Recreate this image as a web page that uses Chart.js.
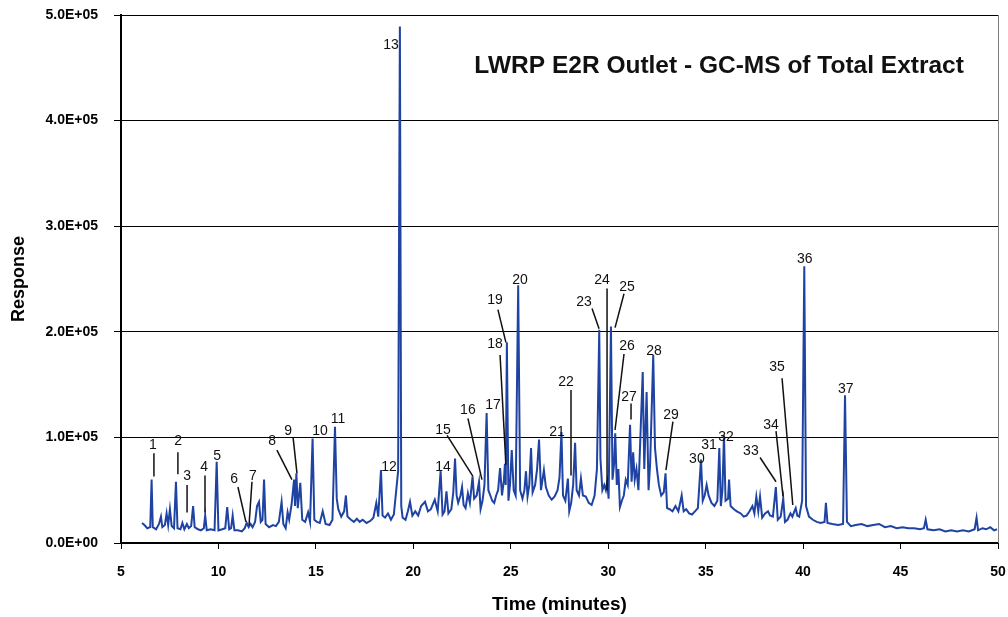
<!DOCTYPE html>
<html>
<head>
<meta charset="utf-8">
<title>LWRP E2R Outlet - GC-MS of Total Extract</title>
<script src="https://cdn.jsdelivr.net/npm/chart.js@4.4.1/dist/chart.umd.min.js"></script>
<style>
    body { margin: 0; background: #fff; }
    #wrap { width: 1008px; height: 617px; }
</style>
</head>
<body>
<div id="wrap"><canvas id="gcChart" width="1008" height="617"></canvas></div>
<script>
// chromatogram: retention time (min) and response (thousands)
var retentionTime = [
    6.08, 6.2, 6.35, 6.5, 6.57, 6.63, 6.8, 6.95, 7.05, 7.12,
    7.25, 7.34, 7.42, 7.51, 7.6, 7.72, 7.82, 7.9, 8.05, 8.15,
    8.25, 8.38, 8.48, 8.6, 8.7, 8.78, 8.95, 9.1, 9.25, 9.32,
    9.4, 9.6, 9.8, 9.91, 10.0, 10.2, 10.35, 10.45, 10.55, 10.65,
    10.73, 10.82, 11.0, 11.2, 11.35, 11.45, 11.55, 11.65, 11.75, 11.88,
    11.98, 12.08, 12.17, 12.26, 12.34, 12.42, 12.6, 12.8, 12.95, 13.1,
    13.24, 13.33, 13.45, 13.55, 13.63, 13.75, 13.88, 13.93, 14.0, 14.07,
    14.2, 14.3, 14.45, 14.6, 14.7, 14.83, 14.92, 15.05, 15.2, 15.35,
    15.5, 15.7, 15.85, 15.98, 16.07, 16.15, 16.3, 16.45, 16.54, 16.62,
    16.8, 16.95, 17.1, 17.25, 17.4, 17.6, 17.8, 17.95, 18.1, 18.2,
    18.34, 18.42, 18.55, 18.7, 18.85, 19.0, 19.15, 19.22, 19.31, 19.38,
    19.45, 19.6, 19.72, 19.83, 19.95, 20.1, 20.25, 20.4, 20.6, 20.75,
    20.9, 21.1, 21.25, 21.4, 21.5, 21.6, 21.7, 21.8, 21.95, 22.05,
    22.14, 22.22, 22.3, 22.42, 22.5, 22.58, 22.68, 22.8, 22.9, 23.04,
    23.12, 23.25, 23.37, 23.45, 23.55, 23.65, 23.76, 23.85, 23.95, 24.05,
    24.15, 24.25, 24.35, 24.45, 24.55, 24.65, 24.7, 24.74, 24.8, 24.88,
    24.96, 25.05, 25.15, 25.25, 25.38, 25.48, 25.6, 25.7, 25.78, 25.86,
    25.95, 26.04, 26.12, 26.25, 26.35, 26.45, 26.55, 26.7, 26.8, 26.95,
    27.1, 27.25, 27.4, 27.5, 27.6, 27.68, 27.8, 27.93, 28.0, 28.1,
    28.2, 28.3, 28.38, 28.5, 28.6, 28.7, 28.85, 29.0, 29.15, 29.3,
    29.42, 29.54, 29.6, 29.7, 29.8, 29.88, 29.95, 30.02, 30.14, 30.22,
    30.3, 30.36, 30.44, 30.52, 30.6, 30.7, 30.8, 30.9, 31.0, 31.12,
    31.2, 31.28, 31.36, 31.45, 31.55, 31.65, 31.77, 31.85, 31.97, 32.07,
    32.15, 32.31, 32.4, 32.5, 32.6, 32.72, 32.85, 32.94, 33.02, 33.15,
    33.3, 33.45, 33.6, 33.77, 33.87, 34.0, 34.15, 34.3, 34.45, 34.6,
    34.76, 34.85, 34.95, 35.05, 35.15, 35.3, 35.45, 35.6, 35.7, 35.78,
    35.86, 35.94, 36.02, 36.15, 36.2, 36.28, 36.45, 36.6, 36.8, 36.95,
    37.1, 37.25, 37.4, 37.5, 37.6, 37.7, 37.79, 37.9, 38.05, 38.2,
    38.3, 38.45, 38.6, 38.7, 38.85, 38.98, 39.07, 39.2, 39.35, 39.45,
    39.55, 39.62, 39.7, 39.8, 39.95, 40.06, 40.15, 40.3, 40.5, 40.7,
    40.9, 41.1, 41.17, 41.25, 41.5, 41.8, 42.05, 42.15, 42.25, 42.45,
    42.7, 43.0, 43.3, 43.6, 43.9, 44.2, 44.5, 44.8, 45.1, 45.4,
    45.7, 46.0, 46.2, 46.29, 46.38, 46.7, 47.0, 47.3, 47.6, 47.9,
    48.2, 48.5, 48.8, 48.9, 48.98, 49.2, 49.4, 49.6, 49.8, 49.95
];
var responseK = [
    19, 17, 14, 15, 60, 15, 13, 18, 25, 15,
    17, 28, 17, 32, 16, 14, 58, 14, 13, 19,
    13, 18, 14, 16, 35, 15, 13, 12, 14, 26,
    12, 13, 12, 77, 12, 13, 14, 34, 13, 14,
    26, 12, 12, 11, 14, 19, 15, 18, 15, 20,
    35, 39, 20, 22, 60, 18, 15, 17, 16, 20,
    39, 18, 14, 29, 22, 36, 60, 35, 66, 33,
    57, 22, 20, 29, 20, 99, 22, 20, 19, 30,
    18, 17, 22, 110, 42, 32, 25, 30, 45, 25,
    22, 20, 23, 20, 22, 19, 21, 24, 38, 25,
    69, 26, 24, 28, 22, 27, 55, 68, 489, 35,
    24, 22, 30, 39, 26, 30, 26, 35, 39, 30,
    32, 41, 30, 68, 27, 30, 49, 28, 32, 48,
    80, 45, 38, 45, 53, 36, 33, 47, 38, 63,
    42, 45, 58, 32, 40, 55, 123, 50, 45, 40,
    38, 45, 50, 71, 45, 60, 75, 55, 190, 40,
    55, 88, 50, 45, 244, 50, 42, 50, 68, 44,
    55, 90, 48, 55, 70, 98, 50, 69, 53, 45,
    41, 44, 50, 62, 105, 45, 40, 61, 30, 38,
    55, 95, 50, 45, 61, 45, 44, 38, 36, 45,
    70, 202, 80, 50, 55, 50, 58, 42, 205, 60,
    75, 104, 55, 70, 34, 40, 45, 60, 55, 112,
    58, 86, 60, 70, 50, 100, 162, 70, 143, 50,
    75, 178, 90, 70, 55, 45, 48, 66, 33, 32,
    30, 35, 30, 45, 30, 32, 28, 27, 30, 33,
    79, 40, 45, 55, 45, 38, 35, 40, 90, 35,
    50, 102, 40, 42, 60, 35, 32, 30, 28, 25,
    26, 30, 35, 28, 44, 30, 44, 24, 28, 30,
    26, 25, 53, 22, 25, 42, 20, 22, 28, 25,
    30, 33, 26, 25, 40, 262, 35, 25, 22, 20,
    19, 20, 38, 19, 18, 17, 18, 140, 20, 16,
    17, 18, 16, 17, 18, 15, 16, 14, 15, 14,
    14, 13, 14, 22, 13, 12, 13, 11, 12, 11,
    12, 11, 13, 24, 12, 14, 13, 15, 12, 13
];

// peak numbers: [label, time, response(thousands)] at text centre
var peakLabels = [
    ['1', 6.64, 93], ['2', 7.93, 96], ['3', 8.39, 63], ['4', 9.26, 72],
    ['5', 9.93, 82], ['6', 10.80, 60], ['7', 11.77, 63], ['8', 12.75, 96],
    ['9', 13.57, 106], ['10', 15.21, 106], ['11', 16.13, 117], ['12', 18.75, 72],
    ['13', 18.85, 471], ['14', 21.52, 72], ['15', 21.52, 107], ['16', 22.80, 126],
    ['17', 24.09, 131], ['18', 24.19, 188], ['19', 24.19, 230], ['20', 25.47, 249],
    ['21', 27.37, 105], ['22', 27.83, 152], ['23', 28.76, 228], ['24', 29.68, 249],
    ['25', 30.96, 242], ['26', 30.96, 186], ['27', 31.07, 138], ['28', 32.35, 182],
    ['29', 33.22, 121], ['30', 34.55, 79], ['31', 35.17, 93], ['32', 36.04, 100],
    ['33', 37.32, 87], ['34', 38.35, 112], ['35', 38.66, 167], ['36', 40.09, 269],
    ['37', 42.19, 146]
];

// leader lines from label to peak: [t1, r1, t2, r2]
var leaderLines = [
    [6.69, 85, 6.69, 63], [7.92, 86, 7.92, 65], [8.39, 55, 8.39, 29],
    [9.31, 64, 9.31, 29], [11.0, 53, 11.41, 20], [11.72, 58, 11.57, 17],
    [13.0, 88, 13.77, 60], [13.83, 100, 14.03, 66], [21.73, 102, 23.06, 63],
    [22.80, 118, 23.52, 60], [24.45, 178, 24.75, 74], [24.34, 221, 24.75, 190],
    [28.09, 145, 28.09, 64], [29.17, 222, 29.53, 203], [29.94, 241, 29.94, 50],
    [30.81, 236, 30.35, 204], [30.81, 179, 30.35, 107], [31.17, 132, 31.17, 117],
    [33.32, 115, 32.96, 69], [37.79, 81, 38.61, 58], [38.61, 106, 38.97, 44],
    [38.92, 156, 39.47, 36]
];

var chartTitle = 'LWRP E2R Outlet - GC-MS of Total Extract';
var fontFamily = '"Liberation Sans", Arial, sans-serif';

function sciLabel(value) {
    if (value === 0) return '0.0E+00';
    var e = Math.floor(Math.log10(value));
    return (value / Math.pow(10, e)).toFixed(1) + 'E+' + String(e).padStart(2, '0');
}

var points = retentionTime.map(function (t, i) {
    return { x: t, y: responseK[i] * 1000 };
});

// draws peak numbers, leader lines, the title and the right frame
var annotatePlugin = {
    id: 'annotate',
    afterDatasetsDraw: function (chart) {
        var ctx = chart.ctx;
        var xs = chart.scales.x;
        var ys = chart.scales.y;
        var area = chart.chartArea;
        ctx.save();

        ctx.strokeStyle = '#808080';
        ctx.lineWidth = 1;
        ctx.beginPath();
        ctx.moveTo(area.right + 0.5, area.top);
        ctx.lineTo(area.right + 0.5, area.bottom);
        ctx.stroke();

        ctx.strokeStyle = '#111';
        ctx.lineWidth = 1.5;
        leaderLines.forEach(function (l) {
            ctx.beginPath();
            ctx.moveTo(xs.getPixelForValue(l[0]), ys.getPixelForValue(l[1] * 1000));
            ctx.lineTo(xs.getPixelForValue(l[2]), ys.getPixelForValue(l[3] * 1000));
            ctx.stroke();
        });

        ctx.fillStyle = '#111';
        ctx.textAlign = 'center';
        ctx.textBaseline = 'middle';
        ctx.font = '14px ' + fontFamily;
        peakLabels.forEach(function (p) {
            ctx.fillText(p[0], xs.getPixelForValue(p[1]), ys.getPixelForValue(p[2] * 1000));
        });

        ctx.font = 'bold 24.5px ' + fontFamily;
        ctx.fillText(chartTitle, area.left + area.width * 0.682, area.top + 51);
        ctx.restore();
    }
};

var ctx = document.getElementById('gcChart').getContext('2d');
new Chart(ctx, {
    type: 'scatter',
    data: {
        datasets: [{
            label: 'Total Extract',
            data: points,
            showLine: true,
            borderColor: '#1f43a3',
            borderWidth: 2,
            pointRadius: 0,
            tension: 0
        }]
    },
    options: {
        responsive: false,
        animation: false,
        devicePixelRatio: 1,
        layout: { padding: { left: 0, right: 10, top: 15, bottom: 0 } },
        plugins: {
            legend: { display: false },
            tooltip: { enabled: false }
        },
        scales: {
            x: {
                type: 'linear',
                min: 5,
                max: 50,
                afterFit: function (scale) {
                    scale.height = 74;
                    scale.paddingLeft = 0;
                    scale.paddingRight = 0;
                },
                border: { display: true, color: '#000', width: 2 },
                grid: { drawOnChartArea: false, drawTicks: true, tickLength: 6, color: '#000' },
                ticks: {
                    stepSize: 5,
                    padding: 15,
                    color: '#000',
                    font: { family: fontFamily, size: 14, weight: 'bold' }
                },
                title: {
                    display: true,
                    text: 'Time (minutes)',
                    color: '#000',
                    padding: { top: 0, bottom: 1 },
                    font: { family: fontFamily, size: 19, weight: 'bold' }
                }
            },
            y: {
                min: 0,
                max: 500000,
                afterFit: function (scale) {
                    scale.width = 121;
                    scale.paddingTop = 0;
                    scale.paddingBottom = 0;
                },
                border: { display: true, color: '#000', width: 2 },
                grid: { color: '#000', lineWidth: 1, tickLength: 7 },
                ticks: {
                    stepSize: 100000,
                    padding: 16,
                    color: '#000',
                    font: { family: fontFamily, size: 14, weight: 'bold' },
                    callback: function (value) { return sciLabel(value); }
                },
                title: {
                    display: true,
                    text: 'Response',
                    color: '#000',
                    padding: { top: 8, bottom: 0 },
                    font: { family: fontFamily, size: 18, weight: 'bold' }
                }
            }
        }
    },
    plugins: [annotatePlugin]
});
</script>
</body>
</html>
